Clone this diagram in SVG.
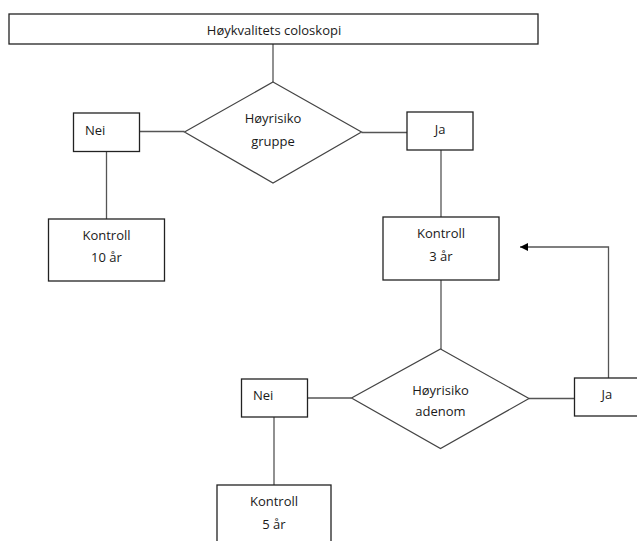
<svg xmlns="http://www.w3.org/2000/svg" width="637" height="541" viewBox="0 0 637 541">
<style>
.box{fill:#fff;stroke:#222;stroke-width:1.3}
.dia{fill:#fff;stroke:#444;stroke-width:1.2}
.ln{fill:none;stroke:#555;stroke-width:1.3}
text{font-family:"Open Sans","Liberation Sans",Arial,sans-serif;font-size:13px;fill:#1a1a1a}
.c{text-anchor:middle}
</style>
<defs>
<marker id="ah" viewBox="0 0 10 10" refX="10" refY="5" markerWidth="8" markerHeight="8" markerUnits="userSpaceOnUse" orient="auto">
<path d="M0,0 L10,5 L0,10 z" fill="#000"/>
</marker>
</defs>
<rect width="637" height="541" fill="#fff"/>
<g id="connectors">
<line class="ln" x1="273" y1="44" x2="273" y2="82"/>
<line class="ln" x1="139.5" y1="131.5" x2="184.5" y2="131.5"/>
<line class="ln" x1="361.5" y1="132.5" x2="407" y2="132.5"/>
<line class="ln" x1="106.5" y1="151.5" x2="106.5" y2="219"/>
<line class="ln" x1="441" y1="150" x2="441" y2="217"/>
<line class="ln" x1="441" y1="280" x2="441" y2="349"/>
<line class="ln" x1="307.5" y1="398" x2="351.5" y2="398"/>
<line class="ln" x1="529" y1="398.5" x2="574.5" y2="398.5"/>
<line class="ln" x1="274" y1="417" x2="274" y2="485"/>
<polyline class="ln" points="608.5,378 608.5,247 520,247" marker-end="url(#ah)"/>
</g>
<g id="start">
<rect class="box" x="9" y="14" width="529" height="30"/>
<text class="c" x="274" y="35">Høykvalitets coloskopi</text>
</g>
<g id="d1">
<polygon class="dia" points="273,82 361.5,132 273,183 184.5,132"/>
<text class="c" x="273" y="123">Høyrisiko</text>
<text class="c" x="273" y="146">gruppe</text>
</g>
<g id="nei1">
<rect class="box" x="73.5" y="113" width="66" height="38.5"/>
<text x="85" y="135">Nei</text>
</g>
<g id="ja1">
<rect class="box" x="407" y="112" width="66" height="38"/>
<text class="c" x="440" y="134">Ja</text>
</g>
<g id="k10">
<rect class="box" x="48.5" y="219" width="116" height="62"/>
<text class="c" x="106.5" y="240">Kontroll</text>
<text class="c" x="106.5" y="262">10 år</text>
</g>
<g id="k3">
<rect class="box" x="383" y="217" width="116" height="63"/>
<text class="c" x="441" y="238">Kontroll</text>
<text class="c" x="441" y="261">3 år</text>
</g>
<g id="d2">
<polygon class="dia" points="440.5,349 529,398.5 440.5,448.5 351.5,398"/>
<text class="c" x="440.5" y="395">Høyrisiko</text>
<text class="c" x="440.5" y="416">adenom</text>
</g>
<g id="nei2">
<rect class="box" x="241.5" y="379" width="66" height="38"/>
<text x="253" y="400">Nei</text>
</g>
<g id="ja2">
<rect class="box" x="574.5" y="378" width="70" height="38"/>
<text x="601.5" y="399">Ja</text>
</g>
<g id="k5">
<rect class="box" x="217" y="485" width="114" height="70"/>
<text class="c" x="274" y="506">Kontroll</text>
<text class="c" x="274" y="529">5 år</text>
</g>
</svg>
